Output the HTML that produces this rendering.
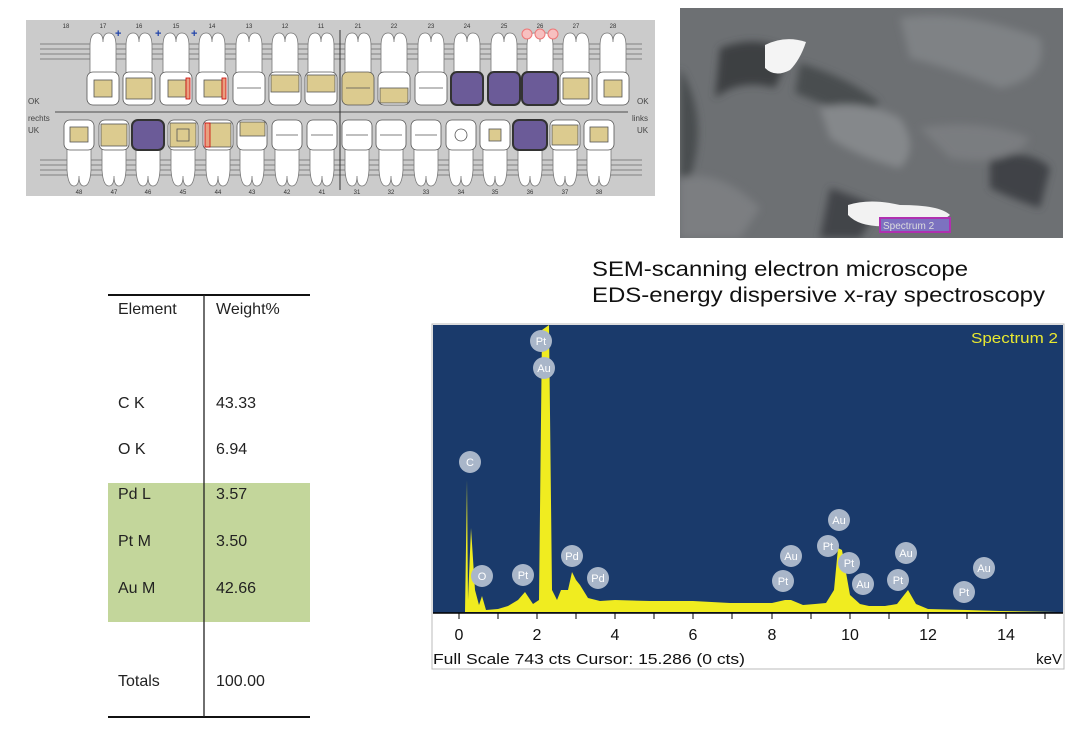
<!DOCTYPE html>
<html><head><meta charset="utf-8"><style>
body{margin:0;width:1088px;height:739px;background:#fff;overflow:hidden;position:relative;font-family:"Liberation Sans",sans-serif}
</style></head><body>
<svg width="1088" height="739" style="position:absolute;left:0;top:0" font-family="Liberation Sans, sans-serif">
<defs>
<g id="ur"><path d="M-13,76 L-13,46 Q-13,33 -6,33 Q0,33 0,42 Q0,33 6,33 Q13,33 13,46 L13,76 Z" fill="#fff" stroke="#777" stroke-width="0.8"/></g>
<g id="lr"><path d="M-12,146 L-12,170 Q-11,186 -5,186 Q0,186 0,176 Q0,186 5,186 Q11,186 12,170 L12,146 Z" fill="#fff" stroke="#777" stroke-width="0.8"/></g>
<filter id="blur"><feGaussianBlur stdDeviation="4"/></filter>
</defs>
<!-- dental chart -->
<rect x="26" y="20" width="629" height="176" fill="#cbcbcb"/>
<g stroke="#6a6a6a" stroke-width="0.8">
<line x1="40" y1="44" x2="642" y2="44"/><line x1="40" y1="49" x2="642" y2="49"/><line x1="40" y1="54" x2="642" y2="54"/><line x1="40" y1="59" x2="642" y2="59"/>
<line x1="40" y1="160" x2="642" y2="160"/><line x1="40" y1="165" x2="642" y2="165"/><line x1="40" y1="170" x2="642" y2="170"/><line x1="40" y1="175" x2="642" y2="175"/>
</g>
<line x1="55" y1="112" x2="628" y2="112" stroke="#777" stroke-width="1.5"/>
<line x1="340" y1="30" x2="340" y2="190" stroke="#333" stroke-width="1"/>
<g font-size="6" fill="#333" text-anchor="middle">
<text x="66" y="28">18</text><text x="103" y="28">17</text><text x="139" y="28">16</text><text x="176" y="28">15</text><text x="212" y="28">14</text><text x="249" y="28">13</text><text x="285" y="28">12</text><text x="321" y="28">11</text><text x="358" y="28">21</text><text x="394" y="28">22</text><text x="431" y="28">23</text><text x="467" y="28">24</text><text x="504" y="28">25</text><text x="540" y="28">26</text><text x="576" y="28">27</text><text x="613" y="28">28</text>
<text x="79" y="194">48</text><text x="114" y="194">47</text><text x="148" y="194">46</text><text x="183" y="194">45</text><text x="218" y="194">44</text><text x="252" y="194">43</text><text x="287" y="194">42</text><text x="322" y="194">41</text><text x="357" y="194">31</text><text x="391" y="194">32</text><text x="426" y="194">33</text><text x="461" y="194">34</text><text x="495" y="194">35</text><text x="530" y="194">36</text><text x="565" y="194">37</text><text x="599" y="194">38</text>
</g>
<g font-size="8" fill="#444"><text x="28" y="104">OK</text><text x="28" y="121">rechts</text><text x="28" y="133">UK</text><text x="637" y="104">OK</text><text x="632" y="121">links</text><text x="637" y="133">UK</text></g>
<g fill="#2244aa" font-size="11" font-weight="bold"><text x="115" y="37">+</text><text x="155" y="37">+</text><text x="191" y="37">+</text></g>
<g>
<use href="#ur" x="103"/><use href="#ur" x="139"/><use href="#ur" x="176"/><use href="#ur" x="212"/><use href="#ur" x="249"/><use href="#ur" x="285"/><use href="#ur" x="321"/><use href="#ur" x="358"/><use href="#ur" x="394"/><use href="#ur" x="431"/><use href="#ur" x="467"/><use href="#ur" x="504"/><use href="#ur" x="540"/><use href="#ur" x="576"/><use href="#ur" x="613"/>
</g>
<g stroke="#555" stroke-width="0.8">
<rect x="87" y="72" width="32" height="33" rx="6" fill="#fff"/><rect x="94" y="80" width="18" height="17" fill="#dccb8f"/>
<rect x="123" y="72" width="32" height="33" rx="6" fill="#fff"/><rect x="126" y="78" width="26" height="21" fill="#dccb8f"/>
<rect x="160" y="72" width="32" height="33" rx="6" fill="#fff"/><rect x="168" y="80" width="18" height="17" fill="#dccb8f"/><rect x="186" y="78" width="4" height="21" fill="#e8a080" stroke="#c00"/>
<rect x="196" y="72" width="32" height="33" rx="6" fill="#fff"/><rect x="204" y="80" width="18" height="17" fill="#dccb8f"/><rect x="222" y="78" width="4" height="21" fill="#e8a080" stroke="#c00"/>
<rect x="233" y="72" width="32" height="33" rx="6" fill="#fff"/><line x1="237" y1="88" x2="261" y2="88"/>
<rect x="269" y="72" width="32" height="33" rx="6" fill="#fff"/><rect x="271" y="75" width="28" height="17" fill="#dccb8f"/>
<rect x="305" y="72" width="32" height="33" rx="6" fill="#fff"/><rect x="307" y="75" width="28" height="17" fill="#dccb8f"/>
<rect x="342" y="72" width="32" height="33" rx="6" fill="#dccb8f"/><line x1="346" y1="88" x2="370" y2="88"/>
<rect x="378" y="72" width="32" height="33" rx="6" fill="#fff"/><rect x="380" y="88" width="28" height="15" fill="#dccb8f"/>
<rect x="415" y="72" width="32" height="33" rx="6" fill="#fff"/><line x1="419" y1="88" x2="443" y2="88"/>
<rect x="451" y="72" width="32" height="33" rx="6" fill="#6b5b98" stroke="#333" stroke-width="2"/>
<rect x="488" y="72" width="32" height="33" rx="6" fill="#6b5b98" stroke="#333" stroke-width="2"/>
<rect x="522" y="72" width="36" height="33" rx="6" fill="#6b5b98" stroke="#333" stroke-width="2"/>
<rect x="560" y="72" width="32" height="33" rx="6" fill="#fff"/><rect x="563" y="78" width="26" height="21" fill="#dccb8f"/>
<rect x="597" y="72" width="32" height="33" rx="6" fill="#fff"/><rect x="604" y="80" width="18" height="17" fill="#dccb8f"/>
</g>
<g fill="none" stroke="#e77" stroke-width="1"><circle cx="527" cy="34" r="5" fill="#f7c0c0"/><circle cx="540" cy="34" r="5" fill="#f7c0c0"/><circle cx="553" cy="34" r="5" fill="#f7c0c0"/></g>
<g>
<use href="#lr" x="79"/><use href="#lr" x="114"/><use href="#lr" x="148"/><use href="#lr" x="183"/><use href="#lr" x="218"/><use href="#lr" x="252"/><use href="#lr" x="287"/><use href="#lr" x="322"/><use href="#lr" x="357"/><use href="#lr" x="391"/><use href="#lr" x="426"/><use href="#lr" x="461"/><use href="#lr" x="495"/><use href="#lr" x="530"/><use href="#lr" x="565"/><use href="#lr" x="599"/>
</g>
<g stroke="#555" stroke-width="0.8">
<rect x="64" y="120" width="30" height="30" rx="6" fill="#fff"/><rect x="70" y="127" width="18" height="15" fill="#dccb8f"/>
<rect x="99" y="120" width="30" height="30" rx="6" fill="#fff"/><rect x="101" y="124" width="26" height="22" fill="#dccb8f"/>
<rect x="132" y="120" width="32" height="30" rx="6" fill="#6b5b98" stroke="#333" stroke-width="2"/>
<rect x="168" y="120" width="30" height="30" rx="6" fill="#fff"/><rect x="170" y="123" width="26" height="24" fill="#dccb8f"/><rect x="177" y="129" width="12" height="12" fill="#dccb8f"/>
<rect x="203" y="120" width="30" height="30" rx="6" fill="#fff"/><rect x="205" y="123" width="26" height="24" fill="#dccb8f"/><rect x="205" y="123" width="5" height="24" fill="#e8a080" stroke="#c00"/>
<rect x="237" y="120" width="30" height="30" rx="6" fill="#fff"/><rect x="240" y="122" width="25" height="14" fill="#dccb8f"/>
<rect x="272" y="120" width="30" height="30" rx="6" fill="#fff"/><line x1="276" y1="135" x2="298" y2="135"/>
<rect x="307" y="120" width="30" height="30" rx="6" fill="#fff"/><line x1="311" y1="135" x2="333" y2="135"/>
<rect x="342" y="120" width="30" height="30" rx="6" fill="#fff"/><line x1="346" y1="135" x2="368" y2="135"/>
<rect x="376" y="120" width="30" height="30" rx="6" fill="#fff"/><line x1="380" y1="135" x2="402" y2="135"/>
<rect x="411" y="120" width="30" height="30" rx="6" fill="#fff"/><line x1="415" y1="135" x2="437" y2="135"/>
<rect x="446" y="120" width="30" height="30" rx="6" fill="#fff"/><circle cx="461" cy="135" r="6" fill="#fff"/>
<rect x="480" y="120" width="30" height="30" rx="6" fill="#fff"/><rect x="489" y="129" width="12" height="12" fill="#dccb8f"/>
<rect x="513" y="120" width="34" height="30" rx="6" fill="#6b5b98" stroke="#333" stroke-width="2"/>
<rect x="550" y="120" width="30" height="30" rx="6" fill="#fff"/><rect x="552" y="125" width="26" height="20" fill="#dccb8f"/>
<rect x="584" y="120" width="30" height="30" rx="6" fill="#fff"/><rect x="590" y="127" width="18" height="15" fill="#dccb8f"/>
</g>
<!-- SEM image -->
<svg x="680" y="8" width="383" height="230" viewBox="0 0 383 230">
<rect width="383" height="230" fill="#6d7073"/>
<g filter="url(#blur)">
<path d="M40 40 Q80 25 110 45 L95 80 Q60 70 35 90 Z" fill="#3e4143"/>
<path d="M120 55 Q170 70 200 95 L180 110 Q140 95 115 85 Z" fill="#4a4d50"/>
<path d="M310 150 Q350 140 370 160 L360 200 Q330 190 310 180 Z" fill="#404346"/>
<path d="M0 60 Q30 110 10 170 L0 180 Z" fill="#4a4d50"/>
<path d="M150 180 Q180 190 200 200 L180 230 L140 230 Z" fill="#424548"/>
<path d="M140 100 Q180 90 220 110 Q240 140 220 160 Q180 150 150 130 Z" fill="#85888b"/>
<path d="M220 10 Q280 0 360 30 Q370 70 320 80 Q270 60 230 50 Z" fill="#7f8285"/>
<path d="M0 170 Q40 160 80 200 L60 230 L0 230 Z" fill="#7b7e81"/>
<path d="M240 120 Q300 110 350 130 Q330 160 270 150 Z" fill="#7a7d80"/>
</g>
<path d="M85 37 Q105 27 126 34 Q120 52 110 62 Q95 70 85 60 Z" fill="#f4f4f4"/>
<path d="M168 197 Q190 190 220 197 Q260 197 270 207 Q250 224 210 218 Q180 220 168 207 Z" fill="#f2f2f2"/>
<rect x="200" y="210" width="70" height="14" fill="#7c72c0" stroke="#b030b0" stroke-width="2"/>
<text x="203" y="221" font-size="10" fill="#ddd">Spectrum 2</text>
</svg>
<!-- table -->
<rect x="108" y="483" width="202" height="139" fill="#c3d69b"/>
<line x1="108" y1="295" x2="310" y2="295" stroke="#111" stroke-width="2"/>
<line x1="108" y1="717" x2="310" y2="717" stroke="#111" stroke-width="2"/>
<line x1="204" y1="295" x2="204" y2="717" stroke="#222" stroke-width="1.3"/>
<g font-size="16" fill="#222">
<text x="118" y="314">Element</text><text x="216" y="314">Weight%</text>
<text x="118" y="408">C K</text><text x="216" y="408">43.33</text>
<text x="118" y="454">O K</text><text x="216" y="454">6.94</text>
<text x="118" y="499">Pd L</text><text x="216" y="499">3.57</text>
<text x="118" y="546">Pt M</text><text x="216" y="546">3.50</text>
<text x="118" y="593">Au M</text><text x="216" y="593">42.66</text>
<text x="118" y="686">Totals</text><text x="216" y="686">100.00</text>
</g>
<g font-size="21" fill="#111"><text x="592" y="276" textLength="376" lengthAdjust="spacingAndGlyphs">SEM-scanning electron microscope</text><text x="592" y="302" textLength="453" lengthAdjust="spacingAndGlyphs">EDS-energy dispersive x-ray spectroscopy</text></g>
<!-- spectrum -->
<rect x="432" y="324" width="632" height="345" fill="#fff" stroke="#bbb" stroke-width="1"/>
<rect x="433" y="325" width="630" height="288" fill="#1a3a6b"/>
<text x="1058" y="343" font-size="15" fill="#e8e830" text-anchor="end" textLength="87" lengthAdjust="spacingAndGlyphs">Spectrum 2</text>
<polygon fill="#f0ec20" points="465,612 467,480 468,600 471,528 475,590 479,605 482,596 486,610 498,609 508,606 518,600 525,592 533,604 539,600 542,330 549,325 552,590 557,600 561,590 568,590 572,572 576,580 580,585 588,598 600,601 615,600 650,601 693,601 730,603 772,603 785,600 791,600 803,605 815,604 826,603 834,590 838,548 842,550 850,595 860,604 869,606 885,606 897,604 908,590 916,604 928,609 967,610 1000,611 1057,612"/>
<line x1="433" y1="613" x2="1063" y2="613" stroke="#000" stroke-width="1.5"/>
<path stroke="#000" stroke-width="1" d="M459 613v6M498 613v6M537 613v6M576 613v6M615 613v6M654 613v6M693 613v6M732 613v6M772 613v6M811 613v6M850 613v6M889 613v6M928 613v6M967 613v6M1006 613v6M1045 613v6"/>
<g font-size="16" fill="#111" text-anchor="middle">
<text x="459" y="640">0</text><text x="537" y="640">2</text><text x="615" y="640">4</text><text x="693" y="640">6</text><text x="772" y="640">8</text><text x="850" y="640">10</text><text x="928" y="640">12</text><text x="1006" y="640">14</text>
</g>
<text x="433" y="664" font-size="15" fill="#111" textLength="312" lengthAdjust="spacingAndGlyphs">Full Scale 743 cts Cursor: 15.286  (0 cts)</text>
<text x="1062" y="664" font-size="15" fill="#111" text-anchor="end">keV</text>
<g font-size="11" fill="#fff" text-anchor="middle">
<g fill="#a9b6c9"><circle cx="541" cy="341" r="11"/><circle cx="544" cy="368" r="11"/><circle cx="470" cy="462" r="11"/><circle cx="482" cy="576" r="11"/><circle cx="523" cy="575" r="11"/><circle cx="572" cy="556" r="11"/><circle cx="598" cy="578" r="11"/><circle cx="791" cy="556" r="11"/><circle cx="783" cy="581" r="11"/><circle cx="839" cy="520" r="11"/><circle cx="828" cy="546" r="11"/><circle cx="849" cy="563" r="11"/><circle cx="863" cy="584" r="11"/><circle cx="906" cy="553" r="11"/><circle cx="898" cy="580" r="11"/><circle cx="984" cy="568" r="11"/><circle cx="964" cy="592" r="11"/></g>
<text x="541" y="345">Pt</text><text x="544" y="372">Au</text><text x="470" y="466">C</text><text x="482" y="580">O</text><text x="523" y="579">Pt</text><text x="572" y="560">Pd</text><text x="598" y="582">Pd</text><text x="791" y="560">Au</text><text x="783" y="585">Pt</text><text x="839" y="524">Au</text><text x="828" y="550">Pt</text><text x="849" y="567">Pt</text><text x="863" y="588">Au</text><text x="906" y="557">Au</text><text x="898" y="584">Pt</text><text x="984" y="572">Au</text><text x="964" y="596">Pt</text>
</g>
</svg>
</body></html>
